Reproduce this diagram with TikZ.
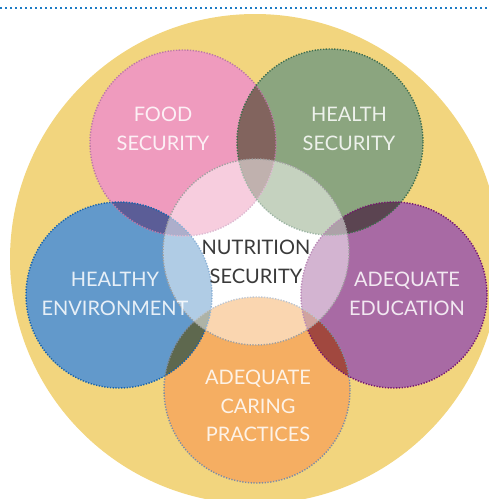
\documentclass[tikz,border=0pt]{standalone}
\usepackage{fontspec}
\setmainfont{Lato}
\usepackage{xcolor}
\usepackage[]{tikz}

\definecolor{backyellow}{HTML}{F2D57E}
\definecolor{rulecol}{HTML}{1E7BC4}
\definecolor{foodcol}{HTML}{EF9BBE}
\definecolor{healthcol}{HTML}{8BA57F}
\definecolor{envcol}{HTML}{6299CB}
\definecolor{educol}{HTML}{A86AA4}
\definecolor{carecol}{HTML}{F5AE62}
\definecolor{foodrim}{HTML}{BC78A6}
\definecolor{healthrim}{HTML}{3D6D4C}
\definecolor{envrim}{HTML}{1763AD}
\definecolor{edurim}{HTML}{75156F}
\definecolor{carerim}{HTML}{7D8DA3}
\definecolor{nutrim}{HTML}{A0A0A0}
\definecolor{nuttext}{HTML}{3A3A3A}

\tikzset{rim/.style={dash pattern=on 1.3pt off 1.5pt, line width=1.4pt}}

\begin{document}
\begin{tikzpicture}[x=1pt,y=-1pt]
                \useasboundingbox (0,0) rectangle (489,499);
                \clip (0,0) rectangle (489,499);
                % dotted rule on top
                \draw[rulecol, line width=2pt, dash pattern=on 2pt off 3pt] (0,8) -- (489,8);
                \fill[backyellow] (255,259) circle (245);
                \coordinate (0) at (256,252);
                \coordinate (1) at (183,143);
                \coordinate (2) at (330,142);
                \coordinate (3) at (119,295);
                \coordinate (4) at (394,295);
                \coordinate (5) at (257,390);
                \foreach \c in {0,...,5}
                    \fill[white] (\c) circle (93);
                \begin{scope}[blend mode=multiply]
                    \fill[foodcol] (1) circle (93);
                    \fill[healthcol] (2) circle (93);
                    \fill[envcol] (3) circle (93);
                    \fill[educol] (4) circle (93);
                    \fill[carecol] (5) circle (93);
                \end{scope}
                \begin{scope}[every path/.style={rim}]
                    \draw[foodrim] (1) circle (93);
                    \draw[healthrim] (2) circle (93);
                    \draw[envrim] (3) circle (93);
                    \draw[edurim] (4) circle (93);
                    \draw[carerim] (5) circle (93);
                \end{scope}
                \fill[white, fill opacity=0.5] (0) circle (93);
                \draw[rim, nutrim] (0) circle (93);
                \begin{scope}[every node/.style={align=center, text=white, text opacity=0.85,
                    font=\fontsize{20}{28.5}\selectfont}]
                    \node (food) at (163,129) {FOOD\\SECURITY};
                    \node (health) at (349,129) {HEALTH\\SECURITY};
                    \node (env) at (115,294) {HEALTHY\\ENVIRONMENT};
                    \node (edu) at (407,294) {ADEQUATE\\EDUCATION};
                    \node (care) at (258,406) {ADEQUATE\\CARING\\PRACTICES};
                    \node[text=nuttext, text opacity=1] (nut) at (256,262) {NUTRITION\\SECURITY};
                \end{scope}
            \end{tikzpicture}
\end{document}
